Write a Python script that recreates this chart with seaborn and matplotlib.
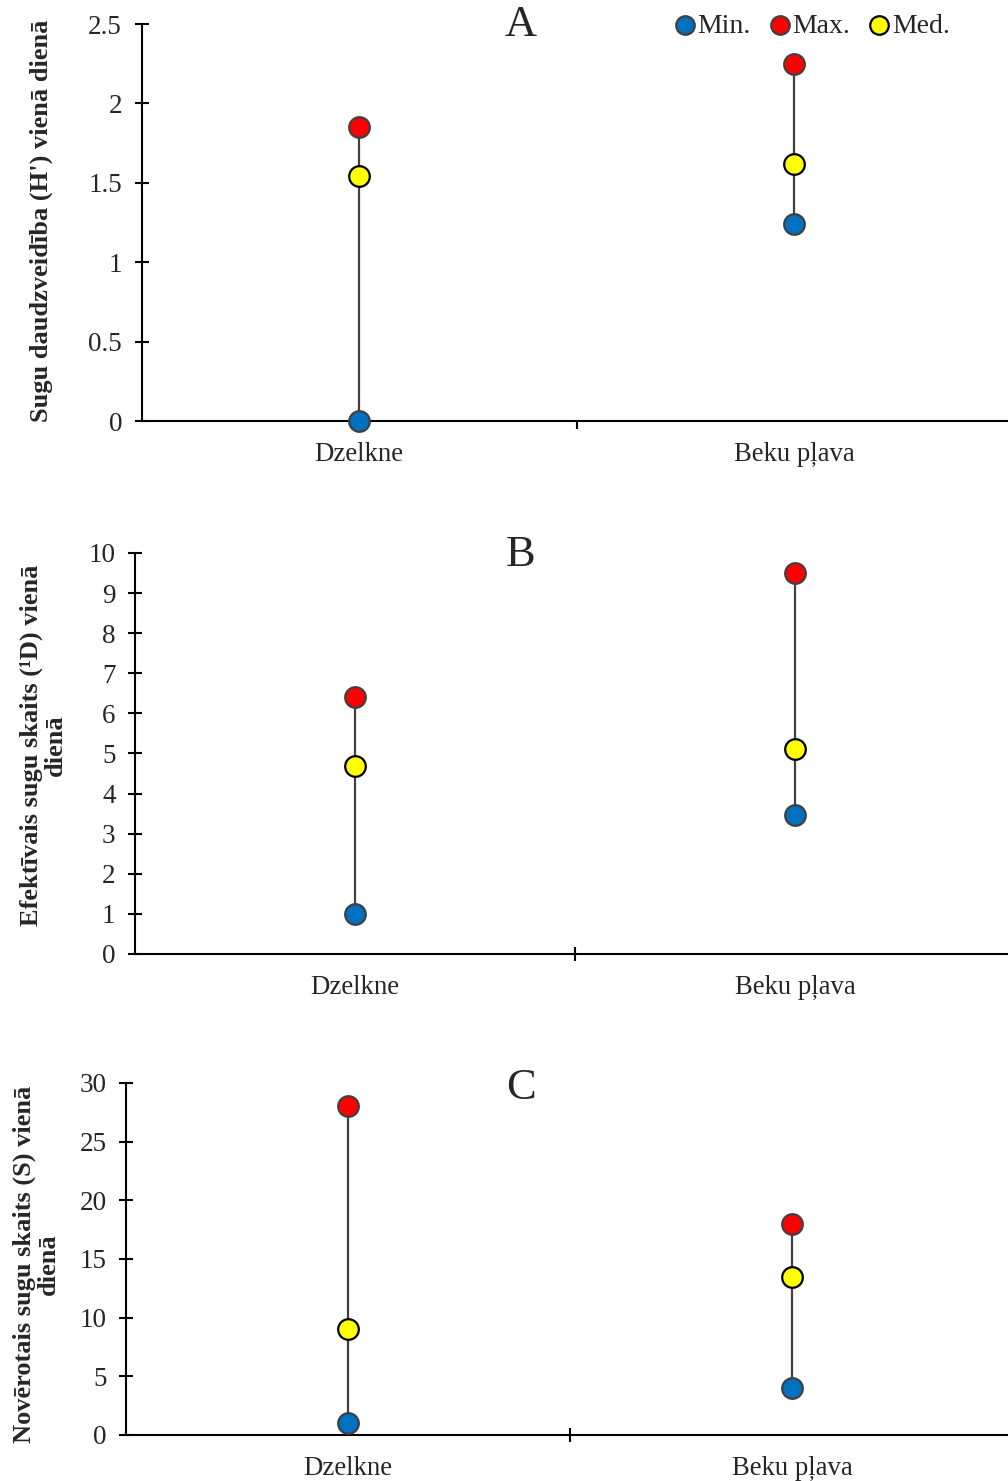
import matplotlib.pyplot as plt
import numpy as np
import pandas as pd
import seaborn as sns

sites = ['Dzelkne', 'Beku pļava']
stats = ['Min.', 'Max.', 'Med.']

# A: species diversity H'
h_min = [0.0, 1.24]
h_max = [1.85, 2.25]
h_med = [1.54, 1.62]
# B: effective number of species 1D
d_min = [1.0, 3.46]
d_max = [6.4, 9.5]
d_med = [4.68, 5.1]
# C: observed species S
s_min = [1, 4]
s_max = [28, 18]
s_med = [9, 13.5]

palette = {'Min.': '#0070C0', 'Max.': '#FF0000', 'Med.': '#FFFF00'}
edges = {'Min.': '#404040', 'Max.': '#404040', 'Med.': '#000000'}

sns.set_theme(style='white')
plt.rcParams['font.family'] = ['Liberation Serif', 'DejaVu Serif']

W, H = 1008, 1481
fig = plt.figure(figsize=(W / 100, H / 100), dpi=100)


def px_rect(left, right, top, bottom):
    return [left / W, 1 - bottom / H, (right - left) / W, (bottom - top) / H]


panels = [
    dict(letter='A', mins=h_min, maxs=h_max, meds=h_med, ymax=2.5, step=0.5,
         label="Sugu daudzveidība (H') vienā dienā",
         rect=px_rect(141.5, 1011.5, 24, 421), lab_xy=(41, 221), letter_y=25,
         xtick_dir='out', legend=True),
    dict(letter='B', mins=d_min, maxs=d_max, meds=d_med, ymax=10, step=1,
         label='Efektīvais sugu skaits (¹D) vienā\ndienā',
         rect=px_rect(135, 1015, 553, 954), lab_xy=(43, 745), letter_y=555,
         xtick_dir='inout', legend=False),
    dict(letter='C', mins=s_min, maxs=s_max, meds=s_med, ymax=30, step=5,
         label='Novērotais sugu skaits (S) vienā\ndienā',
         rect=px_rect(126, 1014, 1083, 1435), lab_xy=(36, 1264), letter_y=1088,
         xtick_dir='inout', legend=False),
]

for p in panels:
    ax = fig.add_axes(p['rect'])
    df = pd.DataFrame({
        'site': sites * 3,
        'stat': np.repeat(stats, 2),
        'value': list(p['mins']) + list(p['maxs']) + list(p['meds']),
    })
    # range lines
    ax.vlines([0, 1], p['mins'], p['maxs'], color='#404040', lw=1.6, zorder=2)
    for st in stats:
        sub = df[df['stat'] == st]
        sns.scatterplot(data=sub, x='site', y='value', color=palette[st],
                        edgecolor=edges[st], linewidth=1.6, s=220, ax=ax,
                        label=st, zorder=3, clip_on=False)

    ax.set_xlim(-0.5, 1.5)
    ax.set_ylim(0, p['ymax'])
    ticks = np.arange(0, p['ymax'] + p['step'] / 2, p['step'])
    ax.set_yticks(ticks)
    ax.set_yticklabels([f'{t:g}' for t in ticks])
    ax.set_xticks([0, 1])
    ax.set_xticklabels(sites)
    ax.set_xticks([0.5], minor=True)
    ax.set_xlabel('')
    ax.set_ylabel('')

    for sp in ['top', 'right']:
        ax.spines[sp].set_visible(False)
    for sp in ['left', 'bottom']:
        ax.spines[sp].set_color('black')
        ax.spines[sp].set_linewidth(1.5)

    ax.tick_params(axis='y', which='major', direction='inout', length=10,
                   width=1.5, color='black', left=True, labelsize=19.5, pad=9)
    ax.tick_params(axis='x', which='major', length=0, labelsize=19.3, pad=15)
    ax.tick_params(axis='x', which='minor', direction=p['xtick_dir'],
                   length=10 if p['xtick_dir'] == 'inout' else 6,
                   width=1.5, color='black', bottom=True)

    fig.text(p['lab_xy'][0] / W, 1 - p['lab_xy'][1] / H, p['label'],
             rotation=90, ha='center', va='center', fontsize=19,
             fontweight='bold', multialignment='center', linespacing=1.05)
    fig.text(521 / W, 1 - p['letter_y'] / H, p['letter'], ha='center',
             va='center', fontsize=32)

    if p['legend']:
        ax.legend(loc='upper right', bbox_to_anchor=(0.945, 1.062), ncol=3,
                  frameon=False, fontsize=20, handletextpad=0.0,
                  handlelength=0.9, columnspacing=0.6, borderpad=0,
                  markerscale=0.9)
    else:
        ax.get_legend().remove()

fig.savefig('out.png', dpi=100, facecolor='white')
